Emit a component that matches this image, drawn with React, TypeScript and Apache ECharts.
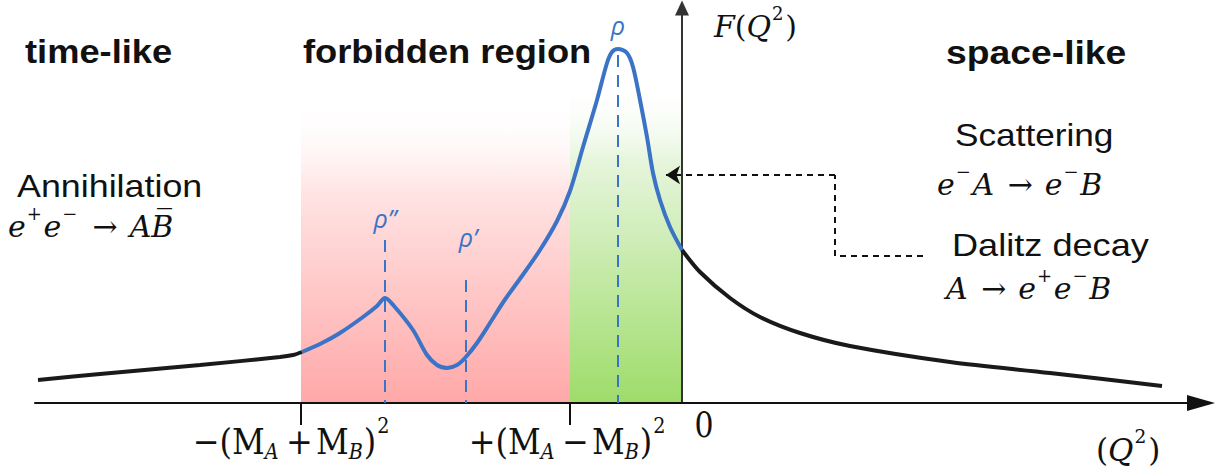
import React, { useEffect, useRef } from "react";
import * as echarts from "echarts";

// x: Q^2 (arbitrary units, 0 at the vertical axis); y: |F(Q^2)| (arbitrary units)
const timeLikeCurve: number[][] = [
  [-6.44, 0.23], [-5.82, 0.29], [-4.82, 0.38], [-4.02, 0.46], [-3.89, 0.48], [-3.8, 0.51],
];
const resonanceCurve: number[][] = [
  [-3.8, 0.51], [-3.6, 0.6], [-3.42, 0.7], [-3.19, 0.86], [-3.05, 0.97], [-2.97, 1.05],
  [-2.88, 0.97], [-2.69, 0.73], [-2.55, 0.48], [-2.45, 0.38], [-2.35, 0.35], [-2.25, 0.38],
  [-2.17, 0.45], [-2.05, 0.6], [-1.92, 0.8], [-1.78, 1.02], [-1.6, 1.27], [-1.42, 1.53],
  [-1.25, 1.82], [-1.12, 2.12], [-0.99, 2.56], [-0.85, 3.03], [-0.75, 3.4], [-0.7, 3.51],
  [-0.64, 3.54], [-0.55, 3.5], [-0.49, 3.36], [-0.42, 3.03], [-0.35, 2.66], [-0.29, 2.3],
  [-0.22, 2.03], [-0.12, 1.76], [0, 1.53],
];
const spaceLikeCurve: number[][] = [
  [0, 1.53], [0.18, 1.31], [0.48, 1.05], [0.78, 0.86], [1.18, 0.7], [1.68, 0.57],
  [2.68, 0.41], [3.68, 0.3], [4.8, 0.17],
];
const thresholds = [-3.81, -1.12]; // -(M_A+M_B)^2 , +(M_A-M_B)^2
const forbiddenTop = 3.03;
const unphysicalTop = 3.23;
const resonanceNames = ["ρ”", "ρ’", "ρ"];
const resonanceX = [-2.97, -2.16, -0.64];
const resonanceTop = [1.63, 1.23, 3.48];
const connectorPath: number[][] = [[2.41, 1.47], [1.53, 1.47], [1.53, 2.28]];
const connectorArrow: number[][] = [[1.53, 2.28], [-0.16, 2.28]];
const regionTitles = ["time-like", "forbidden region", "space-like"];
const processNames = ["Annihilation", "Scattering", "Dalitz decay"];

const BLUE = "#3b73c6";
const SANS = "'Liberation Sans', Arial, sans-serif";
const MATH = "'DejaVu Serif', 'Liberation Serif', serif";

function mathRich(s: number, color = "#111") {
  return {
    i: { fontFamily: MATH, fontStyle: "italic", fontSize: s, lineHeight: s * 1.2, fill: color },
    n: { fontFamily: MATH, fontSize: s, lineHeight: s * 1.2, fill: color },
    ar: { fontFamily: MATH, fontSize: s, lineHeight: s * 1.2, padding: [0, s * 0.4, 0, s * 0.45], fill: color },
    op: { fontFamily: MATH, fontSize: s, lineHeight: s * 1.2, padding: [0, s * 0.1, 0, s * 0.2], fill: color },
    sp: { fontFamily: MATH, fontSize: s * 0.6, lineHeight: s * 0.6, padding: [0, s * 0.06, s * 0.85, s * 0.03], fill: color },
    sb: { fontFamily: MATH, fontStyle: "italic", fontSize: s * 0.6, lineHeight: s * 0.6, padding: [s * 0.6, s * 0.03, 0, 0], fill: color },
  };
}

function text(t: string, x: number, y: number, font: string, extra: any = {}) {
  return {
    type: "text",
    x,
    y,
    scaleX: extra.scaleX ?? 1,
    scaleY: extra.scaleY ?? 1,
    z: 20,
    style: {
      text: t,
      font,
      fill: extra.fill ?? "#111",
      align: extra.align ?? "left",
      verticalAlign: "middle",
      rich: extra.rich,
    },
  };
}

export default function App() {
  const ref = useRef<HTMLDivElement>(null);
  useEffect(() => {
    document.body.style.margin = "0";
    const chart = echarts.init(ref.current!, null, { renderer: "svg" });
    const redGrad = new echarts.graphic.LinearGradient(0, 0, 0, 1, [
      { offset: 0, color: "rgba(255,255,255,0)" },
      { offset: 0.3, color: "#ffe4e4" },
      { offset: 1, color: "#ffa8a8" },
    ]);
    const greenGrad = new echarts.graphic.LinearGradient(0, 0, 0, 1, [
      { offset: 0, color: "rgba(255,255,255,0)" },
      { offset: 0.25, color: "#e6f5dc" },
      { offset: 1, color: "#9edc6a" },
    ]);
    const titleFont = `bold 33px ${SANS}`;
    const bodyFont = `32px ${SANS}`;
    const rhoFont = `italic 25px 'Open Sans', sans-serif`;
    const graphic: any[] = [
      text(regionTitles[0], 25, 52, titleFont, { scaleX: 1.1 }),
      text(regionTitles[1], 303, 52, titleFont, { scaleX: 1.1 }),
      text(regionTitles[2], 946, 52, titleFont, { scaleX: 1.13 }),
      text(processNames[0], 17, 186, bodyFont, { scaleX: 1.12 }),
      text(processNames[1], 955, 135, bodyFont, { scaleX: 1.1 }),
      text(processNames[2], 952, 245, bodyFont, { scaleX: 1.13 }),
      text("{i|e}{sp|+}{i|e}{sp|−}{ar|→}{i|A}{i|B\u0305}", 8, 226, `30px ${MATH}`, { rich: mathRich(30) }),
      text("{i|e}{sp|−}{i|A}{ar|→}{i|e}{sp|−}{i|B}", 937, 184, `30px ${MATH}`, { rich: mathRich(30) }),
      text("{i|A}{ar|→}{i|e}{sp|+}{i|e}{sp|−}{i|B}", 946, 288, `30px ${MATH}`, { rich: mathRich(30) }),
      text("{i|F}{n|(}{i|Q}{sp|2}{n|)}", 714, 26, `30px ${MATH}`, { rich: mathRich(30) }),
      text("{n|(}{i|Q}{sp|2}{n|)}", 1096, 450, `31px ${MATH}`, { rich: mathRich(31) }),
      text("{n|−(M}{sb|A}{op|+}{n|M}{sb|B}{n|)}{sp|2}", 292, 441, `32px ${MATH}`, { rich: mathRich(32), align: "center", scaleY: 1.12 }),
      text("{n|+(M}{sb|A}{op|−}{n|M}{sb|B}{n|)}{sp|2}", 568, 441, `32px ${MATH}`, { rich: mathRich(32), align: "center", scaleY: 1.12 }),
      text("0", 704, 425, `30px ${MATH}`, { align: "center", scaleY: 1.15 }),
      text(resonanceNames[0], 385, 218, rhoFont, { fill: BLUE, align: "center" }),
      text(resonanceNames[1], 468, 237, rhoFont, { fill: BLUE, align: "center" }),
      text(resonanceNames[2], 618, 25, rhoFont, { fill: BLUE, align: "center" }),
    ];

    const lineBase = { type: "line", showSymbol: false, smooth: 0.3, silent: true };
    const option: any = {
      animation: false,
      grid: { left: 35, right: 24, top: 8, bottom: 70 },
      xAxis: {
        type: "value",
        min: -6.47,
        max: 5.19,
        z: 3,
        axisLine: {
          show: true,
          onZero: true,
          symbol: ["none", "triangle"],
          symbolSize: [16, 28],
          lineStyle: { color: "#111", width: 2 },
        },
        axisTick: { show: true, customValues: thresholds, length: 22, lineStyle: { color: "#111", width: 2 } },
        axisLabel: { show: false },
        splitLine: { show: false },
      },
      yAxis: {
        type: "value",
        min: 0,
        max: 3.95,
        z: 3,
        axisLine: {
          show: true,
          onZero: true,
          symbol: ["none", "triangle"],
          symbolSize: [14, 15],
          lineStyle: { color: "#333", width: 2 },
        },
        axisTick: { show: false },
        axisLabel: { show: false },
        splitLine: { show: false },
      },
      graphic,
      series: [
        {
          type: "line",
          name: "regions",
          data: [],
          z: 1,
          silent: true,
          markArea: {
            silent: true,
            data: [
              [{ xAxis: thresholds[0], yAxis: forbiddenTop, itemStyle: { color: redGrad } }, { xAxis: thresholds[1], yAxis: 0 }],
              [{ xAxis: thresholds[1], yAxis: unphysicalTop, itemStyle: { color: greenGrad } }, { xAxis: 0, yAxis: 0 }],
            ],
          },
        },
        { ...lineBase, name: "time-like", data: timeLikeCurve, z: 5, lineStyle: { color: "#1a1a1a", width: 4 } },
        {
          ...lineBase,
          name: "resonances",
          data: resonanceCurve,
          z: 6,
          lineStyle: { color: BLUE, width: 4 },
          markLine: {
            silent: true,
            symbol: ["none", "none"],
            label: { show: false },
            lineStyle: { color: BLUE, width: 2, type: [12, 8] },
            data: resonanceX.map((x, i) => [{ coord: [x, resonanceTop[i]] }, { coord: [x, 0] }]),
          },
        },
        { ...lineBase, name: "space-like", data: spaceLikeCurve, z: 5, lineStyle: { color: "#1a1a1a", width: 4 } },
        {
          type: "line",
          name: "connector",
          data: connectorPath,
          z: 7,
          showSymbol: false,
          silent: true,
          lineStyle: { color: "#111", width: 2, type: [6, 5] },
        },
        {
          type: "lines",
          coordinateSystem: "cartesian2d",
          z: 7,
          silent: true,
          symbol: ["none", "arrow"],
          symbolSize: [12, 14],
          lineStyle: { color: "#111", width: 2, type: [6, 5], opacity: 1 },
          data: [{ coords: connectorArrow }],
        },
      ],
    };
    chart.setOption(option);
    return () => chart.dispose();
  }, []);
  return <div ref={ref} style={{ width: 1225, height: 473 }} />;
}
